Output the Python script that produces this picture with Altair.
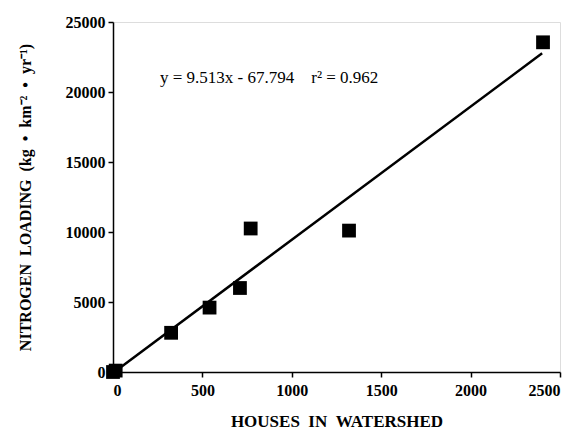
import altair as alt
import pandas as pd

houses = [0, 15, 325, 540, 710, 770, 1320, 2405]
nitrogen = [0, 100, 2800, 4600, 6000, 10250, 10100, 23550]
slope = 9.513
intercept = -67.794
line_x = [0, 2400]

pts = pd.DataFrame({"houses": houses, "nitrogen": nitrogen})
fit = pd.DataFrame({"houses": line_x, "nitrogen": [slope * v + intercept for v in line_x]})

font = "Liberation Serif"
nb = "\u00a0"
xs = alt.Scale(domain=[0, 2500], nice=False, zero=False)
ys = alt.Scale(domain=[0, 25000], nice=False, zero=False)

xaxis = alt.Axis(values=[0, 500, 1000, 1500, 2000, 2500], grid=False, format="d",
                 title=f"HOUSES{nb}{nb}IN{nb}{nb}WATERSHED",
                 labelFont=font, labelFontWeight="bold", labelFontSize=16, labelColor="black",
                 titleFont=font, titleFontWeight="bold", titleFontSize=17, titleColor="black",
                 tickColor="black", domainColor="black", tickSize=5, labelPadding=5, titlePadding=15,
                 domainWidth=1.5, tickWidth=1.5)
yaxis = alt.Axis(values=[0, 5000, 10000, 15000, 20000, 25000], grid=False, format="d",
                 title=f"NITROGEN{nb}{nb}LOADING{nb}{nb}(kg{nb}{nb}•{nb}{nb}km⁻²{nb}{nb}•{nb}{nb}yr⁻¹)",
                 labelFont=font, labelFontWeight="bold", labelFontSize=16, labelColor="black",
                 titleFont=font, titleFontWeight="bold", titleFontSize=16, titleColor="black",
                 tickColor="black", domainColor="black", tickSize=5, labelPadding=3, titlePadding=32,
                 domainWidth=1.5, tickWidth=1.5)

points = alt.Chart(pts).mark_square(size=190, color="black", opacity=1, filled=True).encode(
    x=alt.X("houses:Q", scale=xs, axis=xaxis),
    y=alt.Y("nitrogen:Q", scale=ys, axis=yaxis),
)
line = alt.Chart(fit).mark_line(color="black", strokeWidth=2.5).encode(
    x=alt.X("houses:Q", scale=xs),
    y=alt.Y("nitrogen:Q", scale=ys),
)
eq = f"y{nb}={nb}9.513x{nb}-{nb}67.794{nb}{nb}{nb}{nb}r²{nb}={nb}0.962"
label = alt.Chart(pd.DataFrame({"t": [eq]})).mark_text(
    font=font, fontSize=17, align="left", baseline="middle", color="black"
).encode(x=alt.value(47), y=alt.value(56), text="t:N")

chart = (line + points + label).properties(
    width=447, height=350,
    autosize=alt.AutoSizeParams(type="none"),
    padding={"left": 105, "top": 14, "right": 10, "bottom": 60},
).configure_view(stroke="black", strokeWidth=1.5).configure(background="white")

chart.save("out.html", embed_options={"renderer": "svg", "actions": False})
